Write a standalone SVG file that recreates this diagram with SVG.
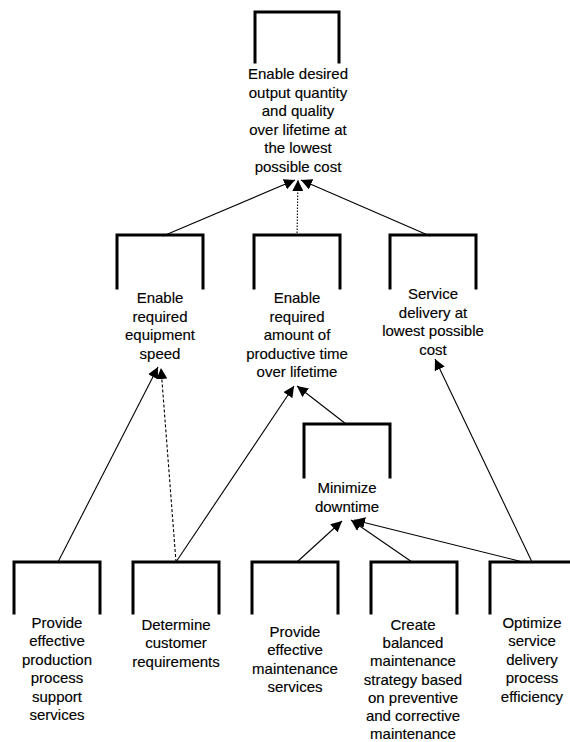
<svg xmlns="http://www.w3.org/2000/svg" width="570" height="742" viewBox="0 0 570 742">
  <style>
    .frame { fill: none; stroke: #000; stroke-width: 3; stroke-linejoin: miter; stroke-linecap: square; }
    .label { font-family: "Liberation Sans", Arial, sans-serif; font-size: 15px; fill: #000; stroke: #000; stroke-width: 0.15; text-anchor: middle; }
    .link { fill: none; stroke: #000; stroke-width: 1.1; marker-end: url(#head); }
    .dash { stroke-dasharray: 3 2; }
    .dot { stroke-dasharray: 1.5 1.5; }
  </style>
  <defs>
    <marker id="head" markerUnits="userSpaceOnUse" markerWidth="12" markerHeight="11" refX="11" refY="5.5" orient="auto">
      <path d="M0,0 L11,5.5 L0,11 z" fill="#000"/>
    </marker>
  </defs>

  <rect x="0" y="0" width="570" height="742" fill="#fff"/>

  <!-- connectors -->
  <g id="connectors">
    <line class="link" x1="163" y1="236" x2="295" y2="180"/>
    <line class="link dot" x1="297" y1="236" x2="298" y2="180"/>
    <line class="link" x1="430" y1="236" x2="301" y2="180"/>
    <line class="link" x1="58" y1="562" x2="158" y2="367"/>
    <line class="link dash" x1="176" y1="562" x2="161" y2="368"/>
    <line class="link" x1="176" y1="562" x2="294" y2="386"/>
    <line class="link" x1="346" y1="424" x2="297" y2="386"/>
    <line class="link" x1="297" y1="562" x2="342" y2="521"/>
    <line class="link" x1="412" y1="562" x2="351" y2="520"/>
    <line class="link" x1="523" y1="562" x2="354" y2="520"/>
    <line class="link" x1="532" y1="562" x2="435" y2="359"/>
  </g>

  <!-- goal -->
  <g id="n-goal">
    <path class="frame" d="M255,62 V12 H339 V62"/>
    <text class="label" x="298" y="79">Enable desired</text>
    <text class="label" x="298" y="97.6">output quantity</text>
    <text class="label" x="298" y="116.2">and quality</text>
    <text class="label" x="298" y="134.8">over lifetime at</text>
    <text class="label" x="298" y="153.4">the lowest</text>
    <text class="label" x="298" y="172">possible cost</text>
  </g>

  <!-- second level -->
  <g id="n-speed">
    <path class="frame" d="M117,288 V235 H203 V288"/>
    <text class="label" x="160" y="303">Enable</text>
    <text class="label" x="160" y="321.5">required</text>
    <text class="label" x="160" y="340">equipment</text>
    <text class="label" x="160" y="358.5">speed</text>
  </g>
  <g id="n-time">
    <path class="frame" d="M254,288 V235 H340 V288"/>
    <text class="label" x="297" y="303">Enable</text>
    <text class="label" x="297" y="321.5">required</text>
    <text class="label" x="297" y="340">amount of</text>
    <text class="label" x="297" y="358.5">productive time</text>
    <text class="label" x="297" y="377">over lifetime</text>
  </g>
  <g id="n-cost">
    <path class="frame" d="M390,288 V235 H476 V288"/>
    <text class="label" x="433" y="299">Service</text>
    <text class="label" x="433" y="317.5">delivery at</text>
    <text class="label" x="433" y="336">lowest possible</text>
    <text class="label" x="433" y="354.5">cost</text>
  </g>

  <!-- third level -->
  <g id="n-downtime">
    <path class="frame" d="M304,477 V424 H390 V477"/>
    <text class="label" x="347" y="493">Minimize</text>
    <text class="label" x="347" y="512">downtime</text>
  </g>

  <!-- bottom level -->
  <g id="n-support">
    <path class="frame" d="M14,613 V562 H100 V613"/>
    <text class="label" x="57" y="628">Provide</text>
    <text class="label" x="57" y="646.4">effective</text>
    <text class="label" x="57" y="664.8">production</text>
    <text class="label" x="57" y="683.2">process</text>
    <text class="label" x="57" y="701.6">support</text>
    <text class="label" x="57" y="720">services</text>
  </g>
  <g id="n-customer">
    <path class="frame" d="M133,613 V562 H219 V613"/>
    <text class="label" x="176" y="630">Determine</text>
    <text class="label" x="176" y="648.4">customer</text>
    <text class="label" x="176" y="666.8">requirements</text>
  </g>
  <g id="n-maintenance">
    <path class="frame" d="M252,613 V562 H338 V613"/>
    <text class="label" x="295" y="637">Provide</text>
    <text class="label" x="295" y="655.4">effective</text>
    <text class="label" x="295" y="673.8">maintenance</text>
    <text class="label" x="295" y="692.2">services</text>
  </g>
  <g id="n-strategy">
    <path class="frame" d="M371,613 V562 H457 V613"/>
    <text class="label" x="413" y="630">Create</text>
    <text class="label" x="413" y="648.2">balanced</text>
    <text class="label" x="413" y="666.4">maintenance</text>
    <text class="label" x="413" y="684.6">strategy based</text>
    <text class="label" x="413" y="702.8">on preventive</text>
    <text class="label" x="413" y="721">and corrective</text>
    <text class="label" x="413" y="739">maintenance</text>
  </g>
  <g id="n-efficiency">
    <path class="frame" d="M490,613 V562 H576 V613"/>
    <text class="label" x="532" y="628">Optimize</text>
    <text class="label" x="532" y="646.4">service</text>
    <text class="label" x="532" y="664.8">delivery</text>
    <text class="label" x="532" y="683.2">process</text>
    <text class="label" x="532" y="701.6">efficiency</text>
  </g>
</svg>
